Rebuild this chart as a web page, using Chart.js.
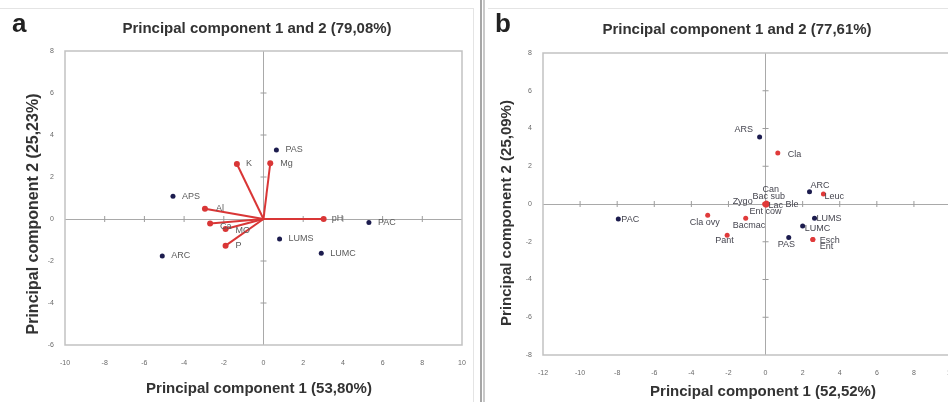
<!DOCTYPE html>
<html>
<head>
<meta charset="utf-8">
<script src="https://cdn.jsdelivr.net/npm/chart.js@4.4.1/dist/chart.umd.min.js"></script>
<style>
html, body { margin: 0; padding: 0; width: 948px; height: 402px; overflow: hidden; background: #fff; }
canvas { position: absolute; top: 0; }
#pcaA { left: 0; }
#pcaB { left: 486px; }
.sep { position: absolute; top: 0; height: 402px; }
.linea { position: absolute; background: #e4e4e4; }
</style>
</head>
<body>
<div class="linea" style="left:0;top:8px;width:474px;height:1px"></div>
<div class="linea" style="left:473px;top:8px;width:1px;height:394px"></div>
<div class="linea" style="left:488px;top:8px;width:460px;height:1px"></div>
<div class="sep" style="left:480px;width:2px;background:#a6a6a6"></div>
<div class="sep" style="left:483px;width:2px;background:#c9c9c9"></div>
<canvas id="pcaA" width="480" height="402"></canvas>
<canvas id="pcaB" width="520" height="402"></canvas>
<script>
// Panel a: sitios (puntos azules)
const sitiosA = ['PAS', 'APS', 'ARC', 'LUMS', 'LUMC', 'PAC'];
const sitiosAX = [0.65, -4.56, -5.10, 0.81, 2.91, 5.31];
const sitiosAY = [3.29, 1.08, -1.76, -0.95, -1.63, -0.17];

// Panel a: variables del suelo (vectores rojos)
const variablesA = ['K', 'Mg', 'Al', 'Ca', 'MO', 'P', 'pH'];
const variablesAX = [-1.34, 0.34, -2.95, -2.69, -1.91, -1.91, 3.03];
const variablesAY = [2.62, 2.65, 0.49, -0.22, -0.48, -1.27, 0.00];

// Panel b: sitios
const sitiosB = ['ARS', 'ARC', 'PAC', 'LUMS', 'LUMC', 'PAS'];
const sitiosBX = [-0.32, 2.37, -7.94, 2.64, 2.00, 1.25];
const sitiosBY = [3.55, 0.65, -0.80, -0.76, -1.17, -1.77];

// Panel b: microorganismos
const especiesB = ['Cla', 'Leuc', 'Cla ovy', 'Bacmac', 'Pant', 'Can', 'Bac sub', 'Zygo', 'Lac', 'Ble', 'Ent cow', 'Esch', 'Ent'];
const especiesBX = [0.66, 3.12, -3.12, -1.07, -2.07, 0.05, 0.00, -0.05, 0.05, 0.10, 0.00, 2.55, 2.55];
const especiesBY = [2.70, 0.53, -0.60, -0.76, -1.65, 0.05, 0.00, 0.00, -0.05, 0.00, -0.05, -1.88, -1.88];

const ticksAX = [-10, -8, -6, -4, -2, 0, 2, 4, 6, 8, 10];
const ticksAY = [-6, -4, -2, 0, 2, 4, 6, 8];
const ticksBX = [-12, -10, -8, -6, -4, -2, 0, 2, 4, 6, 8, 10, 12];
const ticksBY = [-8, -6, -4, -2, 0, 2, 4, 6, 8];

// desplazamiento de las etiquetas (px) respecto al punto
const despSitiosA = sitiosA.map(() => [9, 0]);
const despVarA = [[9, 0], [10, 0], [11, 0], [10, 3], [10, 1], [10, 0], [8, 0]];
const despSitiosB = [[-25, -7], [1, -6], [3, 0], [2, 0], [2, 2], [-11, 7]];
const despEspB = [[10, 1], [1, 3], [-18, 7], [-13, 7], [-12, 5], [-4, -14], [-13, -7], [-32, -2], [2, 1], [18, 1], [-16, 7], [7, 1], [7, 7]];

const FUENTE = "'Liberation Sans', Arial, sans-serif";
const AZUL = '#1c1c4e';
const ROJO = '#d93636';

const etiquetas = {
  id: 'etiquetas',
  afterDatasetsDraw(chart) {
    const ctx = chart.ctx;
    chart.data.datasets.forEach((ds, i) => {
      if (!ds.etiquetas) return;
      const meta = chart.getDatasetMeta(i);
      ctx.save();
      ctx.font = ds.etiquetaFont;
      ctx.fillStyle = ds.etiquetaColor;
      ctx.textBaseline = 'middle';
      ctx.textAlign = 'left';
      meta.data.forEach((pt, j) => {
        const t = ds.etiquetas[j];
        if (!t) return;
        const [dx, dy] = ds.desp[j];
        ctx.fillText(t, pt.x + dx, pt.y + dy);
      });
      ctx.restore();
    });
  }
};

// marco del área y marcas cruzadas sobre los ejes centrales
const marco = {
  id: 'marco',
  beforeDatasetsDraw(chart) {
    const { ctx, chartArea: a, scales: { x, y } } = chart;
    const x0 = x.getPixelForValue(0);
    const y0 = y.getPixelForValue(0);
    ctx.save();
    ctx.strokeStyle = '#9c9c9c';
    ctx.lineWidth = 1;
    x.ticks.forEach(t => {
      if (t.value === 0 || t.value === x.min || t.value === x.max) return;
      const px = x.getPixelForValue(t.value);
      ctx.beginPath(); ctx.moveTo(px, y0 - 3); ctx.lineTo(px, y0 + 3); ctx.stroke();
    });
    y.ticks.forEach(t => {
      if (t.value === 0 || t.value === y.min || t.value === y.max) return;
      const py = y.getPixelForValue(t.value);
      ctx.beginPath(); ctx.moveTo(x0 - 3, py); ctx.lineTo(x0 + 3, py); ctx.stroke();
    });
    ctx.strokeStyle = '#c2c2c2';
    ctx.lineWidth = 1.5;
    ctx.strokeRect(a.left, a.top, a.right - a.left, a.bottom - a.top);
    ctx.restore();
  }
};

const titulos = {
  id: 'titulos',
  afterDraw(chart, args, opts) {
    const ctx = chart.ctx;
    (opts.items || []).forEach(it => {
      ctx.save();
      ctx.font = it.font;
      ctx.fillStyle = it.color || '#333';
      ctx.textAlign = it.align || 'center';
      ctx.textBaseline = it.baseline || 'middle';
      ctx.translate(it.x, it.y);
      if (it.rot) ctx.rotate(it.rot);
      ctx.fillText(it.text, 0, 0);
      ctx.restore();
    });
  }
};

function escala(min, max, lista, ancho, alto, padding, eje) {
  return {
    type: 'linear',
    min, max,
    afterBuildTicks: s => { s.ticks = lista.map(v => ({ value: v })); },
    afterFit: s => { if (eje === 'x') s.height = alto; else s.width = ancho; },
    ticks: { font: { size: 7, family: FUENTE }, color: '#6a6a6a', padding, autoSkip: false, maxRotation: 0 },
    grid: {
      drawTicks: false,
      lineWidth: 1,
      color: c => (c.tick && c.tick.value === 0 ? '#a9a9a9' : 'rgba(0,0,0,0)')
    },
    border: { display: false }
  };
}

function opcionesBase(pad, escalas, items) {
  return {
    responsive: false,
    animation: false,
    layout: { padding: pad },
    scales: escalas,
    plugins: { legend: { display: false }, tooltip: { enabled: false }, titulos: { items } }
  };
}

// ---- Panel a ----
const datosA = [];
variablesA.forEach((v, i) => {
  datosA.push({
    data: [{ x: 0, y: 0 }, { x: variablesAX[i], y: variablesAY[i] }],
    showLine: true,
    borderColor: ROJO,
    borderWidth: 2,
    pointRadius: [0, 3],
    pointBackgroundColor: ROJO,
    pointBorderWidth: 0,
    etiquetas: ['', v],
    desp: [[0, 0], despVarA[i]],
    etiquetaFont: '9px ' + FUENTE,
    etiquetaColor: '#5a5a5a'
  });
});
datosA.push({
  data: sitiosA.map((s, i) => ({ x: sitiosAX[i], y: sitiosAY[i] })),
  pointRadius: 2.5,
  pointBackgroundColor: AZUL,
  pointBorderWidth: 0,
  etiquetas: sitiosA,
  desp: despSitiosA,
  etiquetaFont: '9px ' + FUENTE,
  etiquetaColor: '#5a5a5a'
});

new Chart(document.getElementById('pcaA'), {
  type: 'scatter',
  data: { datasets: datosA },
  options: opcionesBase(
    { left: 10, right: 18, top: 51, bottom: 0 },
    {
      x: escala(-10, 10, ticksAX, 0, 57, 14, 'x'),
      y: escala(-6, 8, ticksAY, 55, 0, 11, 'y')
    },
    [
      { text: 'a', x: 12, y: 32, font: 'bold 26px ' + FUENTE, align: 'left', baseline: 'alphabetic', color: '#222' },
      { text: 'Principal component 1 and 2 (79,08%)', x: 257, y: 29, font: 'bold 15px ' + FUENTE },
      { text: 'Principal component 1 (53,80%)', x: 259, y: 389, font: 'bold 15px ' + FUENTE },
      { text: 'Principal component 2 (25,23%)', x: 34, y: 214, font: 'bold 16px ' + FUENTE, rot: -Math.PI / 2 }
    ]
  ),
  plugins: [marco, etiquetas, titulos]
});

// ---- Panel b ----
const datosB = [
  {
    data: especiesB.map((s, i) => ({ x: especiesBX[i], y: especiesBY[i] })),
    pointRadius: 2.5,
    pointBackgroundColor: '#e03a3a',
    pointBorderWidth: 0,
    etiquetas: especiesB,
    desp: despEspB,
    etiquetaFont: '9px ' + FUENTE,
    etiquetaColor: '#45454f'
  },
  {
    data: sitiosB.map((s, i) => ({ x: sitiosBX[i], y: sitiosBY[i] })),
    pointRadius: 2.5,
    pointBackgroundColor: AZUL,
    pointBorderWidth: 0,
    etiquetas: sitiosB,
    desp: despSitiosB,
    etiquetaFont: '9px ' + FUENTE,
    etiquetaColor: '#45454f'
  }
];

new Chart(document.getElementById('pcaB'), {
  type: 'scatter',
  data: { datasets: datosB },
  options: opcionesBase(
    { left: 10, right: 15, top: 53, bottom: 0 },
    {
      x: escala(-12, 12, ticksBX, 0, 47, 14, 'x'),
      y: escala(-8, 8, ticksBY, 47, 0, 11, 'y')
    },
    [
      { text: 'b', x: 9, y: 32, font: 'bold 26px ' + FUENTE, align: 'left', baseline: 'alphabetic', color: '#222' },
      { text: 'Principal component 1 and 2 (77,61%)', x: 251, y: 30, font: 'bold 15px ' + FUENTE },
      { text: 'Principal component 1 (52,52%)', x: 277, y: 392, font: 'bold 15px ' + FUENTE },
      { text: 'Principal component 2 (25,09%)', x: 21, y: 213, font: 'bold 15px ' + FUENTE, rot: -Math.PI / 2 }
    ]
  ),
  plugins: [marco, etiquetas, titulos]
});
</script>
</body>
</html>
